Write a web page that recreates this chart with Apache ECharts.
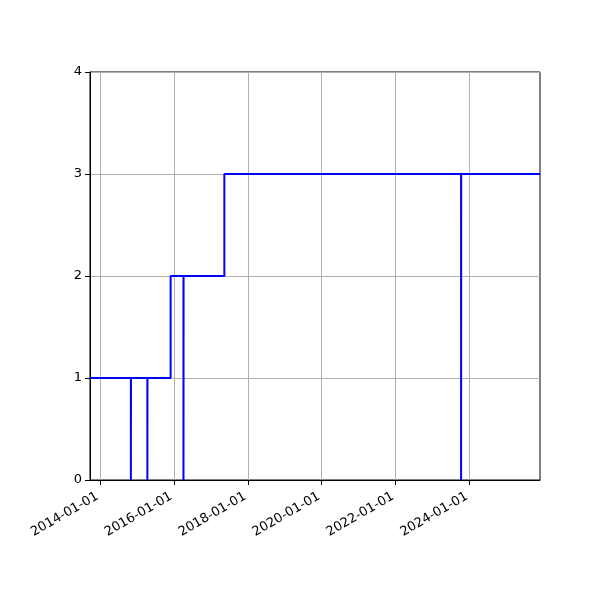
<!DOCTYPE html>
<html>
<head>
    <meta charset="UTF-8">
    <title>step chart</title>
    <script src="https://cdn.jsdelivr.net/npm/echarts@6/dist/echarts.min.js"></script>
    <style>
        body { margin: 0; background: #fff; }
        #chart { width: 600px; height: 600px; }
    </style>
</head>
<body>
    <div id="chart"></div>
    <script>
        // step data: value holds from each date until the next one
        const dates = ['2013-09-24', '2014-11-02', '2014-11-03', '2015-04-14', '2015-04-15',
            '2015-11-30', '2016-04-05', '2016-04-06', '2017-05-14', '2023-10-10', '2023-10-11', '2025-11-28'];
        const values = [1, 0, 1, 0, 1, 2, 0, 2, 3, 0, 3, 3];
        const xTickLabels = ['2014-01-01', '2016-01-01', '2018-01-01', '2020-01-01', '2022-01-01', '2024-01-01'];
        const xMin = '2013-09-24';
        const xMax = '2025-11-28';

        // dates -> ms (UTC) on a plain value axis
        const t = s => Date.parse(s + 'T00:00:00Z');
        const fmt = v => new Date(v).toISOString().slice(0, 10);
        const xTicks = xTickLabels.map(t);
        const seriesData = dates.map((d, i) => [t(d), values[i]]);

        const chart = echarts.init(document.getElementById('chart'));
        chart.setOption({
            animation: false,
            textStyle: { fontFamily: 'DejaVu Sans' },
            grid: {
                left: 90, right: 60, top: 72, bottom: 120,
                show: true, borderColor: '#000', borderWidth: 1, backgroundColor: 'transparent'
            },
            xAxis: {
                type: 'value',
                min: t(xMin),
                max: t(xMax),
                axisLine: { show: true, lineStyle: { color: '#000', width: 1 } },
                axisTick: { show: true, length: 5, lineStyle: { color: '#000' }, customValues: xTicks },
                axisLabel: {
                    customValues: xTicks,
                    rotate: 30,
                    color: '#000',
                    fontSize: 13,
                    margin: 14,
                    padding: [0, 3, 0, 0],
                    formatter: fmt
                },
                splitLine: { show: true, lineStyle: { color: '#b0b0b0', width: 1 } }
            },
            yAxis: {
                type: 'value',
                min: 0,
                max: 4,
                interval: 1,
                axisLine: { show: true, lineStyle: { color: '#000', width: 1 } },
                axisTick: { show: true, length: 5, lineStyle: { color: '#000' } },
                axisLabel: { color: '#000', fontSize: 13, margin: 8 },
                splitLine: { show: true, lineStyle: { color: '#b0b0b0', width: 1 } }
            },
            series: [{
                type: 'line',
                step: 'end',
                data: seriesData,
                showSymbol: false,
                lineStyle: { color: '#0000ff', width: 2 },
                itemStyle: { color: '#0000ff' }
            }]
        });
    </script>
</body>
</html>
